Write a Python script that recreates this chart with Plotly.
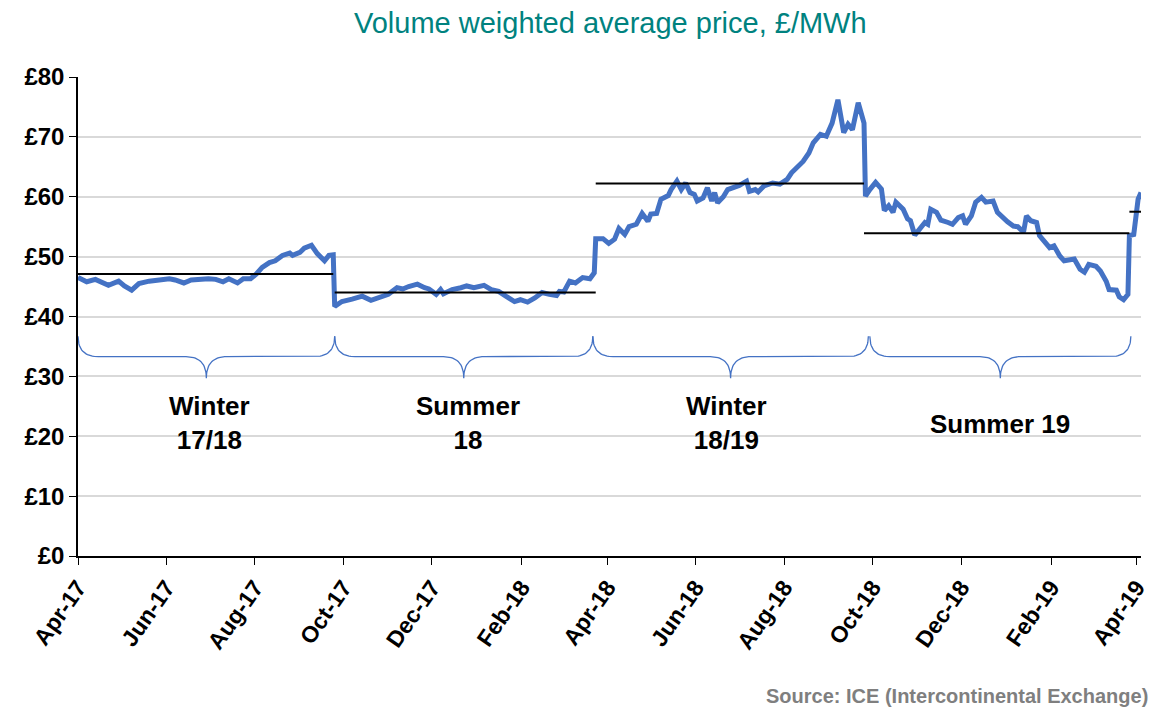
import numpy as np
import pandas as pd
import plotly.graph_objects as go

# daily-ish VWAP readings, £/MWh
dates = [
    "2017-04-01", "2017-04-07", "2017-04-13", "2017-04-17", "2017-04-22", "2017-04-29",
    "2017-05-03", "2017-05-08", "2017-05-13", "2017-05-20", "2017-05-27", "2017-06-03",
    "2017-06-07", "2017-06-13", "2017-06-18", "2017-06-24", "2017-06-30", "2017-07-05",
    "2017-07-10", "2017-07-14", "2017-07-20", "2017-07-24", "2017-07-29", "2017-08-02",
    "2017-08-06", "2017-08-11", "2017-08-15", "2017-08-20", "2017-08-25", "2017-08-27",
    "2017-09-01", "2017-09-04", "2017-09-09", "2017-09-13", "2017-09-18", "2017-09-21",
    "2017-09-24", "2017-09-25", "2017-09-30", "2017-10-07", "2017-10-14", "2017-10-20",
    "2017-10-26", "2017-11-01", "2017-11-07", "2017-11-11", "2017-11-15", "2017-11-21",
    "2017-11-26", "2017-11-29", "2017-12-04", "2017-12-07", "2017-12-09", "2017-12-15",
    "2017-12-21", "2017-12-25", "2017-12-30", "2018-01-06", "2018-01-11", "2018-01-16",
    "2018-01-21", "2018-01-27", "2018-01-31", "2018-02-05", "2018-02-10", "2018-02-15",
    "2018-02-20", "2018-02-25", "2018-02-27", "2018-03-02", "2018-03-06", "2018-03-10",
    "2018-03-15", "2018-03-20", "2018-03-23", "2018-03-24", "2018-03-29", "2018-04-02",
    "2018-04-06", "2018-04-09", "2018-04-13", "2018-04-16", "2018-04-21", "2018-04-23",
    "2018-04-25", "2018-04-29", "2018-05-01", "2018-05-05", "2018-05-08", "2018-05-13",
    "2018-05-15", "2018-05-19", "2018-05-22", "2018-05-25", "2018-05-28", "2018-05-31",
    "2018-06-02", "2018-06-06", "2018-06-09", "2018-06-12", "2018-06-14", "2018-06-16",
    "2018-06-20", "2018-06-23", "2018-06-27", "2018-07-01", "2018-07-06", "2018-07-08",
    "2018-07-12", "2018-07-14", "2018-07-18", "2018-07-24", "2018-07-29", "2018-08-03",
    "2018-08-06", "2018-08-11", "2018-08-14", "2018-08-18", "2018-08-21", "2018-08-26",
    "2018-08-30", "2018-09-03", "2018-09-07", "2018-09-11", "2018-09-14", "2018-09-17",
    "2018-09-21", "2018-09-25", "2018-09-26", "2018-09-29", "2018-10-03", "2018-10-07",
    "2018-10-09", "2018-10-12", "2018-10-15", "2018-10-17", "2018-10-22", "2018-10-25",
    "2018-10-27", "2018-10-30", "2018-11-02", "2018-11-06", "2018-11-08", "2018-11-10",
    "2018-11-14", "2018-11-17", "2018-11-22", "2018-11-25", "2018-11-29", "2018-12-02",
    "2018-12-04", "2018-12-08", "2018-12-11", "2018-12-15", "2018-12-18", "2018-12-23",
    "2018-12-26", "2018-12-30", "2019-01-02", "2019-01-06", "2019-01-09", "2019-01-13",
    "2019-01-15", "2019-01-18", "2019-01-22", "2019-01-24", "2019-01-27", "2019-01-31",
    "2019-02-03", "2019-02-07", "2019-02-10", "2019-02-14", "2019-02-17", "2019-02-21",
    "2019-02-24", "2019-02-27", "2019-03-04", "2019-03-07", "2019-03-11", "2019-03-13",
    "2019-03-18", "2019-03-20", "2019-03-23", "2019-03-26", "2019-03-27", "2019-03-30",
    "2019-04-02", "2019-04-04",
]
prices = [
    46.5, 45.8, 46.2, 45.8, 45.2, 45.9,
    45.1, 44.4, 45.5, 45.9, 46.2, 46.3,
    46.1, 45.6, 46.1, 46.3, 46.3, 46.2,
    45.8, 46.3, 45.6, 46.3, 46.3, 47.1,
    48.2, 49.0, 49.3, 50.2, 50.6, 50.2,
    50.7, 51.4, 51.9, 50.5, 49.3, 50.2,
    50.3, 41.7, 42.5, 42.9, 43.4, 42.7,
    43.1, 43.7, 44.8, 44.6, 45.0, 45.4,
    44.8, 44.6, 43.7, 44.5, 43.8, 44.5,
    44.8, 45.1, 44.8, 45.2, 44.5, 44.2,
    43.4, 42.5, 42.8, 42.4, 43.1, 44.0,
    43.7, 43.5, 44.2, 44.1, 45.9, 45.6,
    46.5, 46.3, 47.3, 53.0, 53.0, 52.2,
    52.9, 54.7, 53.7, 55.0, 55.4, 56.2,
    57.2, 55.9, 57.1, 57.2, 59.6, 60.2,
    61.2, 62.6, 61.2, 62.3, 60.7, 60.4,
    59.3, 59.8, 61.5, 59.3, 60.7, 59.0,
    60.0, 61.2, 61.5, 61.9, 62.6, 60.9,
    61.2, 60.8, 61.8, 62.3, 62.1, 62.9,
    64.0, 65.2, 65.9, 67.3, 69.0, 70.4,
    70.1, 72.3, 76.2, 70.7, 72.1, 71.2,
    75.7, 72.3, 60.1, 61.2, 62.4, 61.3,
    57.7, 58.5, 57.4, 59.1, 57.9, 56.3,
    56.0, 53.6, 54.6, 55.7, 55.4, 57.9,
    57.4, 56.1, 55.7, 55.4, 56.5, 56.8,
    55.4, 56.8, 59.1, 59.9, 59.1, 59.3,
    57.4, 56.4, 55.8, 55.1, 55.0, 54.1,
    56.8, 56.0, 55.7, 53.5, 52.6, 51.5,
    51.8, 50.1, 49.3, 49.4, 49.6, 47.9,
    47.4, 48.7, 48.4, 47.6, 45.9, 44.5,
    44.4, 43.3, 42.8, 43.7, 53.5, 53.7,
    59.6, 60.7,
]

# season averages (black bars)
avg_start = ["2017-04-01", "2017-09-25", "2018-03-24", "2018-09-25", "2019-03-27"]
avg_end = ["2017-09-24", "2018-03-24", "2018-09-25", "2019-03-27", "2019-04-04"]
avg_value = [47.1, 44.0, 62.2, 53.9, 57.5]

# braces and season labels
brace_start = ["2017-04-01", "2017-09-25", "2018-03-22", "2018-09-29"]
brace_end = ["2017-09-25", "2018-03-22", "2018-09-28", "2019-03-28"]
season_text = ["Winter<br>17/18", "Summer<br>18", "Winter<br>18/19", "Summer 19"]
season_x = ["2017-07-01", "2017-12-26", "2018-06-22", "2018-12-28"]
season_y = [22.2, 22.2, 22.2, 22.0]

BLUE = "#4472C4"
FONT = "Arial, 'Liberation Sans', sans-serif"

fig = go.Figure()

fig.add_trace(go.Scatter(x=dates, y=prices, mode="lines",
                         line=dict(color=BLUE, width=5), showlegend=False))

for s, e, v in zip(avg_start, avg_end, avg_value):
    fig.add_trace(go.Scatter(x=[s, e], y=[v, v], mode="lines",
                             line=dict(color="black", width=2), showlegend=False))


def bez(p0, p1, p2, n=20):
    t = np.linspace(0, 1, n)
    xs = (1 - t) ** 2 * p0[0] + 2 * (1 - t) * t * p1[0] + t ** 2 * p2[0]
    ys = (1 - t) ** 2 * p0[1] + 2 * (1 - t) * t * p1[1] + t ** 2 * p2[1]
    return list(xs), list(ys)


top, mid, tip = 36.7, 33.3, 29.7
curl = 14 * 86400000
for s, e in zip(brace_start, brace_end):
    x0 = pd.Timestamp(s).value / 1e6
    x1 = pd.Timestamp(e).value / 1e6
    c = (x0 + x1) / 2
    xs, ys = [], []
    for seg in [((x0, top), (x0, mid), (x0 + curl, mid)),
                ((c - curl, mid), (c, mid), (c, tip)),
                ((c, tip), (c, mid), (c + curl, mid)),
                ((x1 - curl, mid), (x1, mid), (x1, top))]:
        bx, by = bez(*seg)
        xs += bx
        ys += by
    fig.add_trace(go.Scatter(x=pd.to_datetime(xs, unit="ms"), y=ys, mode="lines",
                             line=dict(color=BLUE, width=1.3), showlegend=False))

for t, x, y in zip(season_text, season_x, season_y):
    fig.add_annotation(x=x, y=y, text=t, showarrow=False,
                       font=dict(family=FONT, size=26, color="black", weight="bold"))

fig.add_annotation(x=0.501, y=1.112, xref="paper", yref="paper", showarrow=False,
                   xanchor="center", yanchor="middle",
                   text="Volume weighted average price, £/MWh",
                   font=dict(family=FONT, size=29, color="#00827F"))
fig.add_annotation(x=1.0085, y=-0.292, xref="paper", yref="paper", showarrow=False,
                   xanchor="right", yanchor="middle",
                   text="<b>Source: ICE (Intercontinental Exchange)</b>",
                   font=dict(family=FONT, size=20, color="#7F7F7F"))

# page body adds an 8px margin, so the figure is 8px smaller on each side
fig.update_layout(
    width=1151, height=703,
    margin=dict(l=70, r=18, t=69, b=155),
    plot_bgcolor="white", paper_bgcolor="white",
    font=dict(family=FONT),
    xaxis=dict(type="date", range=["2017-04-01", "2019-04-04"],
               tick0="2017-04-01", dtick="M2", tickformat="%b-%y",
               tickangle=-55, ticks="outside", ticklen=7, tickcolor="black",
               showline=True, linecolor="black", linewidth=1.5, showgrid=False,
               tickfont=dict(size=23, color="black", weight="bold"), automargin=False),
    yaxis=dict(range=[0, 80], dtick=10, tickprefix="£",
               ticks="outside", ticklen=7, tickcolor="black",
               showline=True, linecolor="black", linewidth=1.5,
               gridcolor="#D9D9D9", gridwidth=1.5, zeroline=False,
               tickfont=dict(size=24, color="black", weight="bold"), automargin=False),
)

fig.write_html("out.html")
